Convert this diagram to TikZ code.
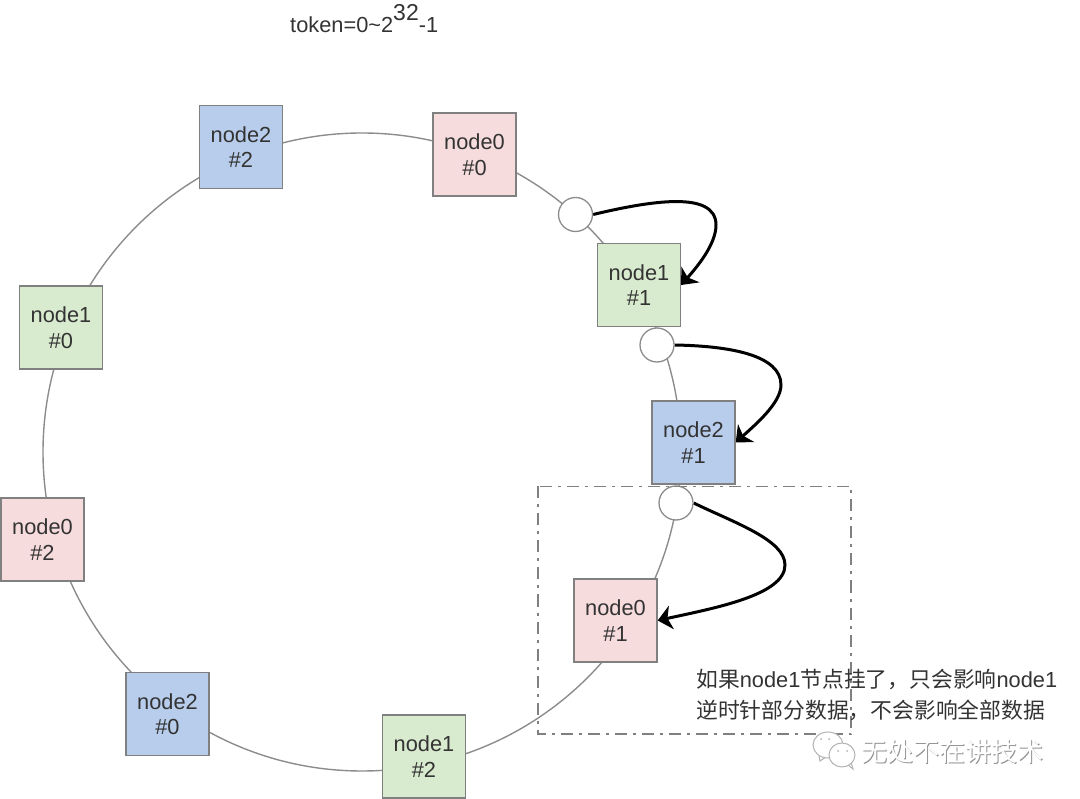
\documentclass[tikz,border=0pt]{standalone}
\usepackage{fontspec}
\setmainfont{Liberation Sans}
\newfontfamily\cjk{Noto Sans CJK SC}
\usetikzlibrary{arrows.meta,backgrounds}
\definecolor{ringgray}{HTML}{8C8C8C}
\definecolor{boxgray}{HTML}{808080}
\definecolor{txtgray}{HTML}{333333}
\definecolor{pinkfill}{HTML}{F6DCDD}
\definecolor{greenfill}{HTML}{D9EBCF}
\definecolor{bluefill}{HTML}{B7CDEB}
\tikzset{
	vnode/.style={draw=boxgray, line width=1.4pt, minimum size=83pt, inner sep=0pt, align=center,
		text=txtgray, font=\fontsize{21.8}{25.5}\selectfont},
	pinkbox/.style={vnode, fill=pinkfill},
	greenbox/.style={vnode, fill=greenfill},
	bluebox/.style={vnode, fill=bluefill},
	keydot/.style={circle, draw=ringgray, line width=1.3pt, fill=white, minimum size=34pt, inner sep=0pt},
	ringline/.style={draw=ringgray, line width=1.4pt},
	movearrow/.style={line width=3pt, black, -{Stealth[length=14pt,width=24pt,inset=4pt]}},
	plaintxt/.style={text=txtgray, inner sep=0pt, font=\fontsize{21.8}{31}\selectfont},
	wechat/.style={draw=gray!60, line width=1pt, fill=white},
	marktxt/.style={inner sep=0pt, font=\fontsize{26}{26}\selectfont\cjk}
}

\begin{document}
\begin{tikzpicture}[x=1pt, y=-1pt]
			%%%%% START %%%%%
			\useasboundingbox (0, 0) rectangle (1080, 799);
			
			\node[plaintxt, anchor=base west] (title) at (290, 33) {token=0\textasciitilde2\raisebox{12.5pt}{\fontsize{23}{31}\selectfont 32}-1};
			
			% vnodes round the ring
			\node[bluebox] (n2s2) at (241, 147) {node2\\\#2};
			\node[pinkbox] (n0s0) at (474.5, 154.5) {node0\\\#0};
			\node[greenbox] (n1s1) at (639, 285) {node1\\\#1};
			\node[bluebox] (n2s1) at (693.5, 442.5) {node2\\\#1};
			\node[pinkbox] (n0s1) at (615.5, 620.5) {node0\\\#1};
			\node[greenbox] (n1s2) at (424, 756.5) {node1\\\#2};
			\node[bluebox] (n2s0) at (167.5, 714) {node2\\\#0};
			\node[pinkbox] (n0s2) at (42.5, 539.5) {node0\\\#2};
			\node[greenbox] (n1s0) at (61, 327.5) {node1\\\#0};
			
			\node[keydot] (key0) at (575.5, 214.5) {};
			\node[keydot] (key1) at (657, 345) {};
			\node[keydot] (key2) at (676, 503) {};
			
			\begin{scope}[on background layer]
				\draw[ringline] (362, 452) circle (319);
				\draw[movearrow] (key0.east) .. controls (650, 201) and (716, 190) .. (716, 225) .. controls (716, 245) and (696, 268) .. (n1s1.east);
				\draw[movearrow] (key1.east) .. controls (730, 346) and (781, 355) .. (781, 385) .. controls (781, 403) and (755, 425) .. (n2s1.east);
				\draw[movearrow] (key2.east) .. controls (735, 523) and (785, 540) .. (785, 565) .. controls (785, 595) and (715, 608) .. (n0s1.east);
			\end{scope}
			
			\draw[draw=boxgray, line width=1.3pt, dash pattern=on 12pt off 6pt on 3pt off 6pt] (538, 486.5) rectangle (851, 734);
			
			\node[plaintxt, anchor=north west, align=left] (note) at (696, 668.5) {{\cjk 如果}node1{\cjk 节点挂了，只会影响}node1\\{\cjk 逆时针部分数据，不会影响全部数据}};
			
			% watermark
			\draw[wechat] (819, 756) -- (820, 761) -- (826, 757);
			\draw[wechat] (828, 745) ellipse (15 and 13);
			\draw[wechat] (848, 765) -- (853, 769) -- (851, 762);
			\draw[wechat] (842, 755) ellipse (13 and 12);
			\fill[gray!60] (821, 739) circle (1) (829, 739) circle (1) (838, 751) circle (1) (847, 751) circle (1);
			\node[marktxt, text=gray!85] (markshade) at (953.5, 752.5) {无处不在讲技术};
			\node[marktxt, text=white] (mark) at (952.9, 751.9) {无处不在讲技术};
			
			%%%%% END %%%%%
		\end{tikzpicture}
\end{document}
